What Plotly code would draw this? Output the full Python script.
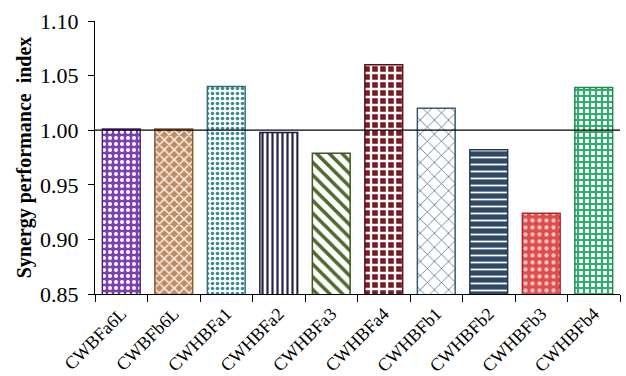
import plotly.graph_objects as go

# Synergy performance index for each specimen
specimens = ["CWBFa6L", "CWBFb6L", "CWHBFa1", "CWHBFa2", "CWHBFa3",
             "CWHBFa4", "CWHBFb1", "CWHBFb2", "CWHBFb3", "CWHBFb4"]
spi = [1.001, 1.001, 1.040, 0.998, 0.979, 1.060, 1.020, 0.982, 0.924, 1.039]

# per-bar fill styling (pattern shape, pattern colour, background, outline)
shapes = [".", "x", ".", "|", "\\", "+", "x", "-", ".", "+"]
fg = ["#ffffff", "#ffffff", "#3a8a96", "#2a2450", "#4f6a2c",
      "#ffffff", "#4c6d8c", "#ffffff", "#f4c0c0", "#2fae6e"]
bg = ["#7a3fb0", "#c08a60", "#ffffff", "#ffffff", "#ffffff",
      "#7b1a22", "#ffffff", "#2f4a66", "#de4c4c", "#ffffff"]
edge = ["#4e2377", "#8a5a34", "#2f6f78", "#1d1a3a", "#3d5520",
        "#5a1016", "#3c5874", "#22384e", "#b02a2a", "#1f8a50"]
sizes = [6, 7, 5, 5, 9, 8, 10, 7, 7, 6]
solid = [0.35, 0.35, 0.4, 0.45, 0.4, 0.5, 0.15, 0.25, 0.3, 0.6]

fig = go.Figure()
for i, name in enumerate(specimens):
    fig.add_trace(go.Bar(
        x=[name],
        y=[spi[i]],
        base=0,
        width=0.72,
        marker=dict(
            color=bg[i],
            line=dict(color=edge[i], width=1.5),
            pattern=dict(shape=shapes[i], fgcolor=fg[i], bgcolor=bg[i],
                         size=sizes[i], solidity=solid[i], fillmode="replace"),
        ),
        showlegend=False,
    ))

# reference line at index = 1.00
fig.add_shape(type="line", xref="paper", yref="y", x0=0, x1=1, y0=1.0, y1=1.0,
              line=dict(color="black", width=1.3))

serif = "Liberation Serif"
fig.update_layout(
    width=626, height=376,
    margin=dict(l=95, r=6, t=21, b=82),
    paper_bgcolor="white", plot_bgcolor="white",
    font=dict(family=serif, color="black"),
    barmode="overlay",
)
fig.update_yaxes(
    range=[0.85, 1.10], dtick=0.05, tickformat=".2f", automargin=False,
    showgrid=False, zeroline=False,
    showline=True, linecolor="black", linewidth=1.3,
    ticks="outside", ticklen=6, tickcolor="black", ticklabelstandoff=5,
    tickfont=dict(family=serif, size=22),
    title=dict(text="<b>Synergy performance  index</b>",
               font=dict(family=serif, size=20), standoff=2),
)
fig.update_xaxes(
    showgrid=False, showline=True, linecolor="black", linewidth=1.3,
    automargin=False,
    ticks="outside", ticklen=7, tickcolor="black", tickson="boundaries",
    tickangle=-45, tickfont=dict(family=serif, size=18), ticklabelstandoff=1,
    categoryorder="array", categoryarray=specimens,
)

fig.write_html("out.html")
